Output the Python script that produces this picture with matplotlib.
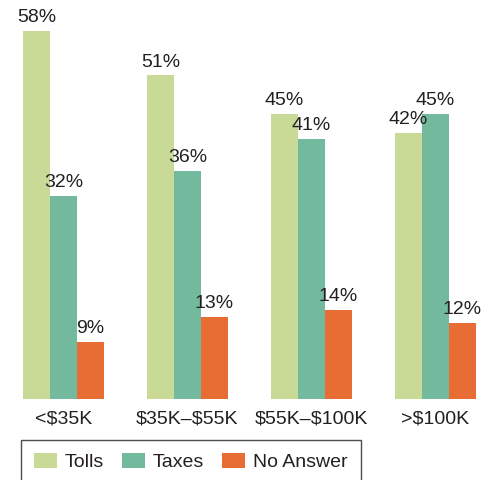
import matplotlib.pyplot as plt
import numpy as np

plt.rcParams['font.family'] = ['Liberation Sans', 'DejaVu Sans']
plt.rcParams['text.parse_math'] = False

groups = ['<$35K', '$35K–$55K', '$55K–$100K', '>$100K']
series = ['Tolls', 'Taxes', 'No Answer']
tolls = [58, 51, 45, 42]
taxes = [32, 36, 41, 45]
no_answer = [9, 13, 14, 12]
colors = ['#C9DA96', '#72B99E', '#E76D35']

fig = plt.figure(figsize=(4.92, 4.8), dpi=100)
ax = fig.add_axes([0, 81 / 480, 1, 399 / 480])

x = np.arange(len(groups))
w = 0.218
for i, (name, vals) in enumerate(zip(series, [tolls, taxes, no_answer])):
    ax.bar(x + (i - 1) * w, vals, width=w, color=colors[i], label=name)
    for xi, v in zip(x + (i - 1) * w, vals):
        ax.annotate(f'{v}%', (xi, v), xytext=(0, 3.5), textcoords='offset points',
                    ha='center', va='bottom', fontsize=14, color='#231f20')

ax.set_xlim(-0.512, 3.456)
ax.set_ylim(0, 62.9)
for s in ax.spines.values():
    s.set_visible(False)
ax.set_yticks([])
ax.set_xticks(x)
ax.set_xticklabels(groups, fontsize=14, color='#231f20')
ax.tick_params(axis='x', length=0, pad=8)

leg = fig.legend(loc='upper left', bbox_to_anchor=(21 / 492, 1 - 440 / 480),
                 ncol=3, frameon=True, fancybox=False, edgecolor='#231f20',
                 fontsize=14, handlelength=1.18, handleheight=0.82,
                 columnspacing=0.93, handletextpad=0.4, borderpad=0.67,
                 borderaxespad=0)
leg.get_frame().set_linewidth(1.0)
for t in leg.get_texts():
    t.set_color('#231f20')

fig.savefig('out.png', dpi=100)
